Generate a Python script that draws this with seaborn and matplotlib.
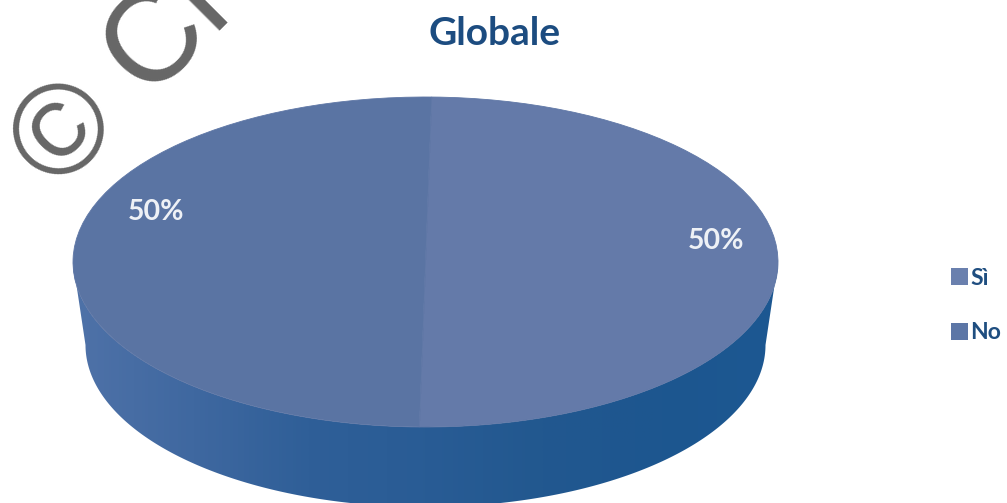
import numpy as np
import matplotlib
matplotlib.use("Agg")
import matplotlib.pyplot as plt
from matplotlib.patches import Patch, Polygon
import seaborn as sns

# Survey answers
categories = ["Sì", "No"]
shares = [50, 50]
slice_colors = ["#647AA9", "#5A74A3"]
legend_colors = ["#6A80AE", "#5C76A6"]
wall_colors = ["#4F72A8", "#3F68A0", "#2F5F98", "#295C95", "#22588F", "#1D568F", "#1C5892"]
title = "Globale"
watermark = "© Cr"

sns.set_theme(style="white")
plt.rcParams["font.family"] = ["Lato", "DejaVu Sans"]

W, H = 1007, 503
fig = plt.figure(figsize=(W / 100, H / 100), dpi=100, facecolor="white")

# Full-figure canvas in pixel units, for the pie's side wall and the overprint
canvas = fig.add_axes([0, 0, 1, 1], zorder=1)
canvas.set_xlim(0, W)
canvas.set_ylim(H, 0)
canvas.axis("off")

cx, cy, rx, ry = 425.5, 262, 352.5, 165
bx, by, brx, bry = 425.5, 345, 340, 162
theta = np.linspace(0, np.pi, 300)
upper_edge = np.column_stack([cx + rx * np.cos(theta), cy + ry * np.sin(theta)])
lower_edge = np.column_stack([bx + brx * np.cos(theta[::-1]), by + bry * np.sin(theta[::-1])])
wall = Polygon(np.vstack([upper_edge, lower_edge]), closed=True, transform=canvas.transData)

cmap = matplotlib.colors.LinearSegmentedColormap.from_list("wall", sns.blend_palette(wall_colors, 64))
shade = canvas.imshow(np.linspace(0, 1, 512)[None, :], cmap=cmap, aspect="auto",
                      extent=(cx - rx, cx + rx, H + 10, cy - 5), zorder=1)
shade.set_clip_path(wall)
canvas.set_xlim(0, W)
canvas.set_ylim(H, 0)

# Pie face squashed into an ellipse
pie_ax = fig.add_axes([(cx - rx) / W, 1 - (cy + ry) / H, 2 * rx / W, 2 * ry / H], zorder=2)
wedges, _, autotexts = pie_ax.pie(
    shares, colors=slice_colors, startangle=89, counterclock=False, radius=1,
    autopct="%.0f%%", pctdistance=0.9,
    textprops=dict(color="#EEF1F6", fontsize=20.5, fontweight="bold"),
    wedgeprops=dict(linewidth=0.6, edgecolor="#5F77A6"),
)
pie_ax.set_aspect("auto")
pie_ax.set_xlim(-1, 1)
pie_ax.set_ylim(-1, 1)
pie_ax.patch.set_alpha(0)

# Label placement on the ellipse
autotexts[0].set_position((0.823, 0.13))
autotexts[1].set_position((-0.765, 0.30))

fig.text(495 / W, 1 - 33 / H, title, color="#1C4C80", fontsize=28, fontweight="bold",
         ha="center", va="center", zorder=5)

# Legend on the right
handles = [Patch(facecolor=c, edgecolor="none") for c in legend_colors]
fig.legend(handles, categories, loc="upper left", bbox_to_anchor=(944 / W, 1 - 261 / H),
           frameon=False, labelspacing=1.45, handlelength=0.76,
           handleheight=0.76, handletextpad=0.08, borderpad=0.3, borderaxespad=0,
           labelcolor="#1F4E80", prop=dict(size=16.5, weight="bold"))

# Overprint running up the top-left corner
overlay = fig.add_axes([0, 0, 1, 1], zorder=6)
overlay.set_xlim(0, W)
overlay.set_ylim(H, 0)
overlay.axis("off")
overlay.patch.set_alpha(0)
overlay.text(57, 193, watermark, rotation=45, rotation_mode="anchor", color="#666666",
             fontsize=92, family=["Liberation Sans", "DejaVu Sans"], ha="left", va="baseline")

fig.savefig("out.png", dpi=100)
